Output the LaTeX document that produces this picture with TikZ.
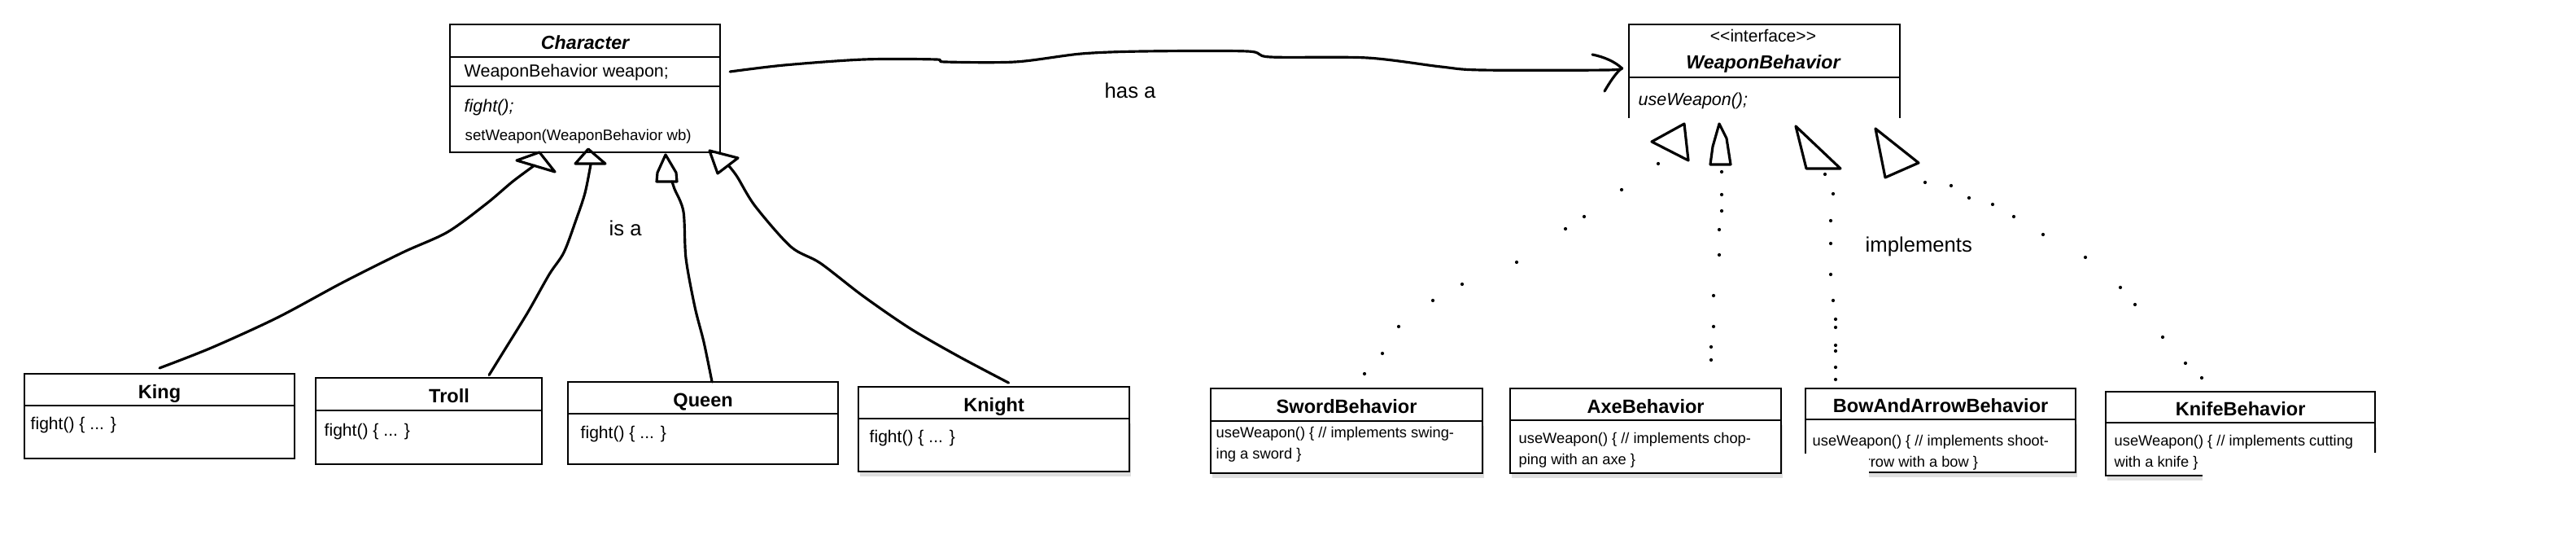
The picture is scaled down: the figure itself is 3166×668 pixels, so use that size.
\documentclass[tikz,border=0pt]{standalone}
\usepackage{fontspec}
\setmainfont{Liberation Sans}
\newfontfamily\plainsans{Liberation Sans}
\usetikzlibrary{positioning,shadows}

\tikzset{
  boxline/.style={line width=0.55pt},
  boxhead/.style={draw,boxline,fill=white,anchor=north west,inner sep=0pt,outer sep=0pt,
    text height=6pt,text depth=0pt,font=\fontsize{6.7}{8}\selectfont\bfseries},
  boxbody/.style={draw,boxline,fill=white,anchor=north west,inner sep=0pt,outer sep=0pt},
  shadowed/.style={drop shadow={shadow xshift=0.6pt,shadow yshift=-1.6pt,opacity=0.25}},
  member/.style={anchor=base west,inner sep=0pt,font=\fontsize{6.1}{7.3}\selectfont},
  bodytext/.style={anchor=north west,inner sep=0pt,align=left,font=\fontsize{6}{7.3}\selectfont},
  smalltext/.style={bodytext,font=\fontsize{5.2}{7.3}\selectfont},
  relname/.style={anchor=base west,inner sep=0pt,font=\fontsize{7.3}{8.8}\selectfont},
  hand/.style={line width=0.9pt,line cap=round,line join=round},
  whiteout/.style={fill=white,draw=none}
}

\begin{document}
\begin{tikzpicture}[x=0.01cm,y=-0.01cm]
  \useasboundingbox (0,0) rectangle (3166,668);

  % Character
  \node[boxhead,minimum width=3.32cm,minimum height=0.40cm,font=\fontsize{6.6}{8}\selectfont\bfseries\itshape] (character) at (553,30) {Character};
  \node[boxbody,minimum width=3.32cm,minimum height=0.36cm] (charattr) at (character.south west) {};
  \node[boxbody,minimum width=3.32cm,minimum height=0.81cm] (charops) at (charattr.south west) {};
  \node[member] (charfield) at (570,95) {WeaponBehavior weapon;};
  \node[member,font=\fontsize{6.1}{7.3}\selectfont\itshape] (charfight) at (570,138) {fight();};
  \node[member,font=\fontsize{5.3}{7}\selectfont] (charset) at (571,173) {setWeapon(WeaponBehavior wb)};

  % WeaponBehavior
  \node[boxhead,minimum width=3.33cm,minimum height=0.65cm] (weapon) at (2002,30) {};
  \node[anchor=north west,inner sep=0pt,outer sep=0pt,minimum width=3.33cm,minimum height=0.50cm] (weaponbody) at (weapon.south west) {};
  \draw[boxline] (weaponbody.north west) -- (weaponbody.south west)
                 (weaponbody.north east) -- (weaponbody.south east);
  \node[anchor=base,inner sep=0pt,font=\plainsans\fontsize{6}{7}\selectfont] (weaponstereo) at (2167,52) {<<interface>>};
  \node[anchor=base,inner sep=0pt,font=\fontsize{6.6}{8}\selectfont\bfseries\itshape] (weaponname) at (2167,85) {WeaponBehavior};
  \node[member,font=\fontsize{6.1}{7.3}\selectfont\itshape] (weaponop) at (2013,130) {useWeapon();};

  % King
  \node[boxhead,minimum width=3.32cm,minimum height=0.39cm] (king) at (30,459) {King};
  \node[boxbody,minimum width=3.32cm,minimum height=0.65cm] (kingbody) at (king.south west) {};
  \node[bodytext] (kingcode) at (37,509) {\strut fight() \{ ... \}};

  % Troll
  \node[boxhead,minimum width=2.78cm,minimum height=0.40cm] (troll) at (388,464) {\hspace*{0.5cm}Troll};
  \node[boxbody,minimum width=2.78cm,minimum height=0.66cm] (trollbody) at (troll.south west) {};
  \node[bodytext] (trollcode) at (398,517) {\strut fight() \{ ... \}};

  % Queen
  \node[boxhead,minimum width=3.32cm,minimum height=0.39cm] (queen) at (698,469) {Queen};
  \node[boxbody,minimum width=3.32cm,minimum height=0.62cm] (queenbody) at (queen.south west) {};
  \node[bodytext] (queencode) at (713,520) {\strut fight() \{ ... \}};

  % Knight
  \node[boxhead,minimum width=3.33cm,minimum height=0.39cm] (knight) at (1055,475) {Knight};
  \node[boxbody,shadowed,minimum width=3.33cm,minimum height=0.65cm] (knightbody) at (knight.south west) {};
  \node[bodytext] (knightcode) at (1068,525) {\strut fight() \{ ... \}};

  % SwordBehavior
  \node[boxhead,minimum width=3.34cm,minimum height=0.40cm] (sword) at (1488,477) {SwordBehavior};
  \node[boxbody,shadowed,minimum width=3.34cm,minimum height=0.64cm] (swordbody) at (sword.south west) {};
  \node[smalltext] (swordcode) at (1494,519) {\strut useWeapon() \{ // implements swing-\\ing a sword \}};

  % AxeBehavior
  \node[boxhead,minimum width=3.33cm,minimum height=0.39cm] (axe) at (1856,477) {AxeBehavior};
  \node[boxbody,shadowed,minimum width=3.33cm,minimum height=0.65cm] (axebody) at (axe.south west) {};
  \node[smalltext] (axecode) at (1866,526) {\strut useWeapon() \{ // implements chop-\\ping with an axe \}};

  % BowAndArrowBehavior
  \node[boxhead,minimum width=3.32cm,minimum height=0.38cm] (bow) at (2219,477) {BowAndArrowBehavior};
  \node[boxbody,shadowed,minimum width=3.32cm,minimum height=0.65cm] (bowbody) at (bow.south west) {};
  \node[smalltext] (bowcode) at (2227,529) {\strut useWeapon() \{ // implements shoot-\\ing an arrow with a bow \}};

  % KnifeBehavior
  \node[boxhead,minimum width=3.31cm,minimum height=0.38cm] (knife) at (2588,481) {KnifeBehavior};
  \node[boxbody,shadowed,minimum width=3.31cm,minimum height=0.65cm] (knifebody) at (knife.south west) {};
  \node[smalltext] (knifecode) at (2598,529) {\strut useWeapon() \{ // implements cutting\\with a knife \}};

  % has a
  \coordinate (hasstart) at ([xshift=0.12cm]charattr.east);
  \coordinate (hastip) at ([xshift=-0.09cm,yshift=-0.21cm]weapon.west);
  \draw[hand] plot[smooth,tension=0.5] coordinates {(hasstart) (964,80) (1062,73) (1150,73) (1161,76) (1248,76) (1329,66) (1406,63) (1533,63) (1561,70) (1680,71) (1771,82) (1820,86) (1975,86) (hastip)};
  \draw[hand] (1957,67) .. controls (1972,70) and (1985,76) .. (hastip) .. controls (1984,92) and (1978,102) .. (1972,112);
  \node[relname] (hasa) at (1357,121) {has a};

  % is a
  \coordinate (kingtop) at ([yshift=2pt]king.north);
  \coordinate (trolltop) at ([xshift=0.74cm,yshift=1pt]troll.north);
  \coordinate (queentop) at ([xshift=0.11cm]queen.north);
  \coordinate (knighttop) at ([xshift=0.18cm,yshift=1.4pt]knight.north);
  \coordinate (kingtip) at (657,203);
  \coordinate (trolltip) at (726,202);
  \coordinate (queentip) at (826,223);
  \coordinate (knighttip) at (896,204);
  \draw[hand] plot[smooth,tension=0.5] coordinates {(kingtop) (260,427) (341,390) (421,347) (495,310) (550,285) (598,250) (630,223) (kingtip)};
  \draw[hand] plot[smooth,tension=0.5] coordinates {(trolltop) (620,430) (649,383) (675,337) (693,310) (708,270) (719,237) (trolltip)};
  \draw[hand] plot[smooth,tension=0.5] coordinates {(queentop) (865,420) (854,377) (843,317) (840,260) (829,232) (queentip)};
  \draw[hand] plot[smooth,tension=0.5] coordinates {(knighttop) (1177,437) (1118,403) (1060,363) (1008,323) (972,303) (928,253) (906,217) (knighttip)};
  \draw[hand] (663,187) -- (635,197) -- (682,211) -- cycle;
  \draw[hand] (723,183) -- (744,201) -- (707,201) -- cycle;
  \draw[hand] (818,190) -- (831,212) -- (832,223) -- (807,223) -- (808,212) -- cycle;
  \draw[hand] (872,185) -- (907,194) -- (882,213) -- cycle;
  \node[relname] (isa) at (748,290) {is a};

  % implements
  \draw[hand] (2070,152) -- (2030,174) -- (2075,197) -- cycle;
  \draw[hand] (2113,152) -- (2122,170) -- (2127,202) -- (2102,202) -- (2105,180) -- cycle;
  \draw[hand] (2207,155) -- (2262,207) -- (2220,207) -- cycle;
  \draw[hand] (2305,158) -- (2358,200) -- (2317,218) -- cycle;
  \foreach \p in {(2038,201),(1993,233),(1947,266),(1924,281),(1864,322),(1797,349),(1761,369),(1719,401),(1699,434),(1677,459)}
    \fill \p circle (0.6pt);
  \foreach \p in {(2116,211),(2116,239),(2116,259),(2113,282),(2113,313),(2106,363),(2106,401),(2103,426),(2103,442)}
    \fill \p circle (0.6pt);
  \foreach \p in {(2243,214),(2253,238),(2250,271),(2250,299),(2250,337),(2253,369),(2256,392),(2256,402),(2256,424),(2256,431),(2256,451),(2256,466)}
    \fill \p circle (0.6pt);
  \foreach \p in {(2366,224),(2398,228),(2420,243),(2449,251),(2475,266),(2511,288),(2563,316),(2606,353),(2624,374),(2658,414),(2686,446),(2706,464)}
    \fill \p circle (0.6pt);
  \node[relname] (impl) at (2292,310) {implements};

  % cut-off corners
  \fill[whiteout] (2205,557) rectangle (2297,600);
  \fill[whiteout] (2707,556) rectangle (2960,600);
\end{tikzpicture}
\end{document}
